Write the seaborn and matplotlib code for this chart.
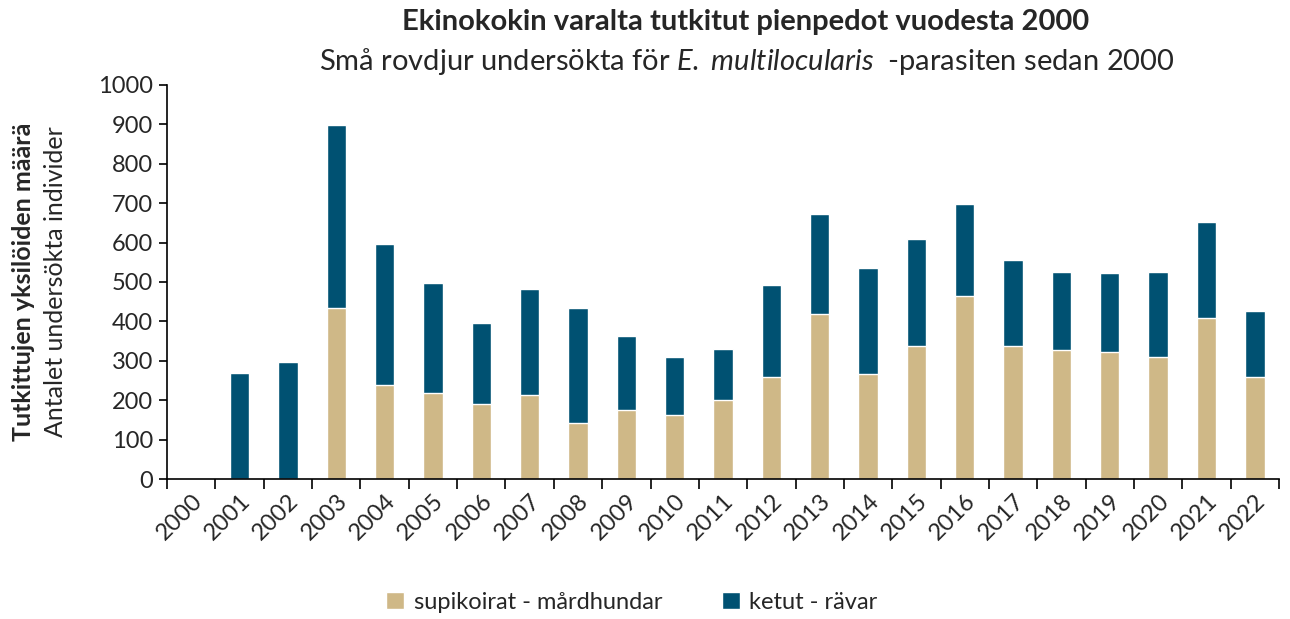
import matplotlib
matplotlib.use("Agg")
import matplotlib.pyplot as plt
from matplotlib.patches import Patch
from matplotlib.ticker import MultipleLocator, FixedLocator
import seaborn as sns
import pandas as pd

years = [str(y) for y in range(2000, 2023)]
totals = [0, 268, 297, 898, 597, 498, 397, 481, 435, 364, 310,
          331, 493, 673, 535, 610, 698, 556, 526, 523, 526, 651, 426]
raccoon_dogs = [0, 0, 0, 435, 239, 218, 190, 214, 143, 176, 163,
                201, 260, 418, 267, 338, 464, 338, 327, 322, 310, 409, 260]
foxes = [t - r for t, r in zip(totals, raccoon_dogs)]

BEIGE = '#CFB887'
NAVY = '#005172'

sns.set_theme(style='white')
plt.rcParams['font.family'] = ['Lato', 'DejaVu Sans']
plt.rcParams['mathtext.fontset'] = 'custom'
plt.rcParams['mathtext.rm'] = 'Lato'
plt.rcParams['mathtext.it'] = 'Lato:italic'

df = pd.DataFrame({'year': years, 'total': totals, 'raccoon': raccoon_dogs, 'fox': foxes})

fig = plt.figure(figsize=(12.9, 6.19), dpi=100)
ax = fig.add_axes([0.1295, 0.226, 0.862, 0.637])

# stacked: draw totals (foxes on top) then raccoon dogs over the base
sns.barplot(data=df, x='year', y='total', color=NAVY, width=0.4, saturation=1, ax=ax)
sns.barplot(data=df, x='year', y='raccoon', color=BEIGE, width=0.4, saturation=1, ax=ax)

ax.set_ylim(0, 1000)
ax.set_xlim(-0.5, len(years) - 0.5)
ax.yaxis.set_major_locator(MultipleLocator(100))
ax.tick_params(axis='y', which='major', direction='out', length=6, width=1.2,
               color='black', labelsize=17, pad=4, left=True)
ax.tick_params(axis='x', which='major', length=0, labelsize=17, pad=8)
ax.xaxis.set_minor_locator(FixedLocator([i - 0.5 for i in range(len(years) + 1)]))
ax.tick_params(axis='x', which='minor', direction='out', length=7, width=1.2,
               color='black', bottom=True)
plt.setp(ax.get_xticklabels(), rotation=45, ha='right', rotation_mode='anchor')

for side in ['top', 'right']:
    ax.spines[side].set_visible(False)
for side in ['left', 'bottom']:
    ax.spines[side].set_color('black')
    ax.spines[side].set_linewidth(1.2)

ax.set_xlabel('')
ax.set_ylabel('')

fig.text(0.018, 0.545, 'Tutkittujen yksilöiden määrä', rotation=90, fontsize=18,
         fontweight='bold', ha='center', va='center')
fig.text(0.043, 0.545, 'Antalet undersökta individer', rotation=90, fontsize=18,
         ha='center', va='center')

fig.text(0.578, 0.965, 'Ekinokokin varalta tutkitut pienpedot vuodesta 2000',
         fontsize=21, fontweight='bold', ha='center', va='center')
fig.text(0.579, 0.9, 'Små rovdjur undersökta för $\\it{E.}$ $\\it{multilocularis}$  -parasiten sedan 2000',
         fontsize=21, ha='center', va='center')

handles = [Patch(facecolor=BEIGE, label='supikoirat - mårdhundar'),
           Patch(facecolor=NAVY, label='ketut - rävar')]
fig.legend(handles=handles, loc='center', bbox_to_anchor=(0.49, 0.027), ncol=2,
           frameon=False, fontsize=17, handlelength=0.75, handleheight=0.75,
           handletextpad=0.4, columnspacing=2.55)

fig.savefig('out.png', dpi=100)
